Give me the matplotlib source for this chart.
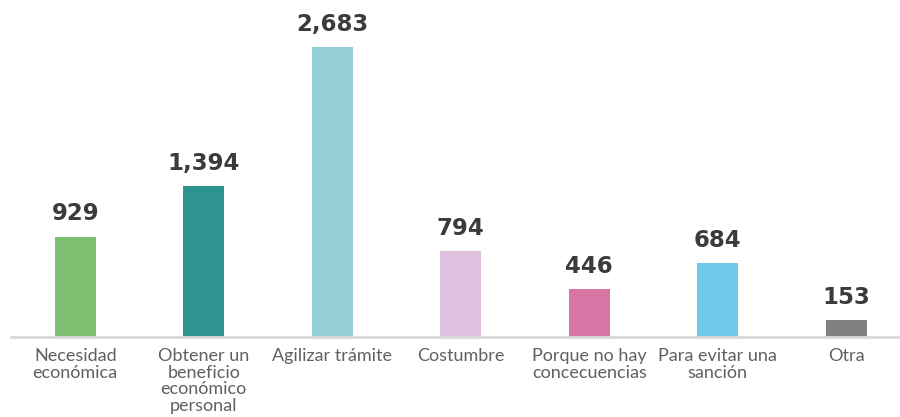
import matplotlib.pyplot as plt

categories = [
    "Necesidad\neconómica",
    "Obtener un\nbeneficio\neconómico\npersonal",
    "Agilizar trámite",
    "Costumbre",
    "Porque no hay\nconcecuencias",
    "Para evitar una\nsanción",
    "Otra",
]
values = [929, 1394, 2683, 794, 446, 684, 153]
colors = ["#7fbf71", "#2e9490", "#95d0d8", "#dfc0df", "#d775a5", "#71c8e8", "#808080"]

fig = plt.figure(figsize=(9, 4.17), dpi=100)
ax = fig.add_axes([11 / 900, 80 / 417, 889 / 900, 337 / 417])

x = list(range(len(values)))
bars = ax.bar(x, values, width=0.32, color=colors, zorder=2)

for b, v in zip(bars, values):
    ax.annotate(f"{v:,}", (b.get_x() + b.get_width() / 2, v),
                xytext=(0, 8), textcoords="offset points",
                ha="center", va="bottom", fontsize=16.5, fontweight="bold",
                color="#3b3b3b", family=["DejaVu Sans"])

ax.set_xlim(-0.5, 6.418)
ax.set_ylim(0, 3118)
ax.set_xticks(x)
ax.set_xticklabels(categories, fontsize=13, color="#606060",
                   linespacing=1.05, family=["Lato", "DejaVu Sans"])
ax.tick_params(axis="x", length=0, pad=8)
ax.set_yticks([])
for s in ["top", "right", "left"]:
    ax.spines[s].set_visible(False)
ax.spines["bottom"].set_color("#d9d9d9")
ax.spines["bottom"].set_linewidth(2)

fig.savefig("out.png", dpi=100)
